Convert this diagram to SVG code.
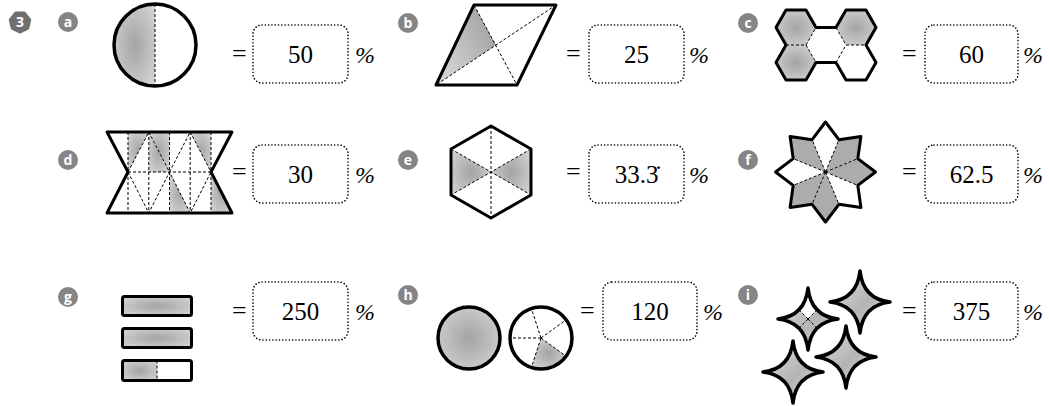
<svg xmlns="http://www.w3.org/2000/svg" xmlns:xlink="http://www.w3.org/1999/xlink" width="1049" height="406" viewBox="0 0 1049 406">
<defs>
<style>
.out{fill:none;stroke:#000;stroke-width:3;stroke-linejoin:round}
.thick{fill:none;stroke:#000;stroke-width:3.5;stroke-linejoin:round}
.dash{fill:none;stroke:#000;stroke-width:1;stroke-dasharray:3 2}
.box{fill:none;stroke:#000;stroke-width:1.6;stroke-dasharray:0.1 3.2;stroke-linecap:round}
.num{font-size:25px;text-anchor:middle;fill:#000}
.eq{font-size:26px;fill:#000}
.pc{font-size:24px;font-style:italic;fill:#000}
.badge{fill:#858587}
.bl{font-family:'Open Sans','DejaVu Sans',sans-serif;font-weight:bold;font-size:14px;fill:#fff;text-anchor:middle}
.sh{fill:url(#rg)}
.ser{font-family:'Liberation Serif','Times New Roman',serif}
</style>
<radialGradient id="rg" cx="0.5" cy="0.5" r="0.65">
<stop offset="0" stop-color="#a4a4a6"/>
<stop offset="1" stop-color="#d4d4d6"/>
</radialGradient>
<linearGradient id="lgb" x1="1" y1="0.3" x2="0" y2="1">
<stop offset="0" stop-color="#a2a2a4"/>
<stop offset="1" stop-color="#dedee0"/>
</linearGradient>
<linearGradient id="lgs" x1="0" y1="0" x2="1" y2="1">
<stop offset="0" stop-color="#e4e4e6"/>
<stop offset="0.55" stop-color="#b4b4b6"/>
<stop offset="1" stop-color="#dcdcde"/>
</linearGradient>
<path id="star" d="M0,-31 Q3,-3 30,0 Q3,3 0,31 Q-3,3 -30,0 Q-3,-3 0,-31 Z"/>
</defs>
<rect width="1049" height="406" fill="#fff"/>

<g id="q3">
<polygon points="20,32.5 11.79,28.55 9.76,19.66 15.44,12.54 24.56,12.54 30.24,19.66 28.21,28.55" fill="#6f6f71" stroke="#6f6f71" stroke-width="2" stroke-linejoin="round"/>
<text x="20" y="27" class="bl">3</text>
</g>

<g class="ser">
<g id="a">
<circle cx="68" cy="22" r="10" class="badge"/><text x="68" y="27" class="bl">a</text>
<path d="M155,4 A41,41 0 0 0 155,86 Z" class="sh"/>
<line x1="155" y1="4" x2="155" y2="86" class="dash"/>
<circle cx="155" cy="45" r="41" class="thick"/>
<text x="232" y="62" class="eq">=</text>
<rect x="253" y="25" width="95" height="58" rx="9" class="box"/>
<text x="300.5" y="63" class="num">50</text>
<text x="355" y="63" class="pc">%</text>
</g>

<g id="b">
<circle cx="408" cy="23" r="10" class="badge"/><text x="408" y="28" class="bl">b</text>
<polygon points="474,5 436,85 496,45" fill="url(#lgb)"/>
<line x1="474" y1="5" x2="517" y2="85" class="dash"/>
<line x1="556" y1="5" x2="436" y2="85" class="dash"/>
<polygon points="474,5 556,5 517,85 436,85" class="out"/>
<text x="566" y="62" class="eq">=</text>
<rect x="589" y="25" width="95" height="58" rx="9" class="box"/>
<text x="636.5" y="63" class="num">25</text>
<text x="689" y="63" class="pc">%</text>
</g>

<g id="c">
<circle cx="748" cy="23" r="10" class="badge"/><text x="748" y="28" class="bl">c</text>
<polygon points="776,27.5 786,10 806,10 816,27.5 806,45 786,45" class="sh"/>
<polygon points="776,62.5 786,45 806,45 816,62.5 806,80 786,80" class="sh"/>
<polygon points="836,27.5 846,10 866,10 876,27.5 866,45 846,45" class="sh"/>
<path d="M786,45 H806 M806,45 L816,27.5 M806,45 L816,62.5 M836,27.5 L846,45 M836,62.5 L846,45 M846,45 H866" class="dash"/>
<polygon points="776,27.5 786,10 806,10 816,27.5 836,27.5 846,10 866,10 876,27.5 866,45 876,62.5 866,80 846,80 836,62.5 816,62.5 806,80 786,80 776,62.5 786,45" class="out"/>
<text x="902" y="62" class="eq">=</text>
<rect x="925" y="25" width="93" height="58" rx="9" class="box"/>
<text x="971.5" y="63" class="num">60</text>
<text x="1023" y="63" class="pc">%</text>
</g>

<g id="d">
<circle cx="68" cy="160" r="10" class="badge"/><text x="68" y="165" class="bl">d</text>
<polygon points="128,132 148.8,132 128,172" class="sh"/>
<polygon points="148.8,132 169.5,172 148.8,172" class="sh"/>
<polygon points="148.8,132 169.5,132 169.5,172" class="sh"/>
<polygon points="190.2,132 211,132 211,172" class="sh"/>
<polygon points="169.5,172 190.2,213 169.5,213" class="sh"/>
<polygon points="211,172 211,213 232,213" class="sh"/>
<path d="M128,132 V213 M148.8,132 V213 M169.5,132 V213 M190.2,132 V213 M211,132 V213 M128,172 H211" class="dash"/>
<polyline points="128,172 148.8,132 169.5,172 190.2,132 211,172" class="dash"/>
<polyline points="128,172 148.8,213 169.5,172 190.2,213 211,172" class="dash"/>
<polygon points="107,132 232,132 211,172 232,213 107,213 128,172" class="out"/>
<text x="232" y="180" class="eq">=</text>
<rect x="253" y="145" width="95" height="58" rx="9" class="box"/>
<text x="300.5" y="183" class="num">30</text>
<text x="355" y="183" class="pc">%</text>
</g>

<g id="e">
<circle cx="408" cy="160" r="10" class="badge"/><text x="408" y="165" class="bl">e</text>
<polygon points="491,172 451,149 451,195" class="sh"/>
<polygon points="491,172 531,149 531,195" class="sh"/>
<path d="M491,126 V218 M451,149 L531,195 M531,149 L451,195" class="dash"/>
<polygon points="491,126 531,149 531,195 491,218 451,195 451,149" class="out"/>
<text x="566" y="180" class="eq">=</text>
<rect x="589" y="145" width="95" height="58" rx="9" class="box"/>
<text x="636.5" y="183" class="num">33.3&#x307;</text>
<text x="689" y="183" class="pc">%</text>
</g>

<g id="f">
<circle cx="748" cy="160" r="10" class="badge"/><text x="748" y="165" class="bl">f</text>
<g fill="#acacae">
<polygon points="825.5,172 838.9,139.7 860.9,136.6 857.8,158.6"/>
<polygon points="825.5,172 857.8,158.6 875.5,172 857.8,185.4"/>
<polygon points="825.5,172 838.9,204.3 825.5,222 812.1,204.3"/>
<polygon points="825.5,172 812.1,204.3 790.1,207.4 793.2,185.4"/>
<polygon points="825.5,172 793.2,158.6 790.1,136.6 812.1,139.7"/>
</g>
<path d="M825.5,172 L838.9,139.7 M825.5,172 L857.8,158.6 M825.5,172 L857.8,185.4 M825.5,172 L838.9,204.3 M825.5,172 L812.1,204.3 M825.5,172 L793.2,185.4 M825.5,172 L793.2,158.6 M825.5,172 L812.1,139.7" class="dash"/>
<circle cx="825.5" cy="172" r="1.5" fill="#000"/>
<polygon points="825.5,122 838.9,139.7 860.9,136.6 857.8,158.6 875.5,172 857.8,185.4 860.9,207.4 838.9,204.3 825.5,222 812.1,204.3 790.1,207.4 793.2,185.4 775.5,172 793.2,158.6 790.1,136.6 812.1,139.7" class="out"/>
<text x="902" y="180" class="eq">=</text>
<rect x="925" y="145" width="93" height="58" rx="9" class="box"/>
<text x="971.5" y="183" class="num">62.5</text>
<text x="1023" y="183" class="pc">%</text>
</g>

<g id="g">
<circle cx="68" cy="297" r="10" class="badge"/><text x="68" y="302" class="bl">g</text>
<rect x="122.5" y="296.5" width="69" height="19" rx="2" class="sh"/>
<rect x="122.5" y="296.5" width="69" height="19" rx="2" class="out"/>
<rect x="122.5" y="328.5" width="69" height="19" rx="2" class="sh"/>
<rect x="122.5" y="328.5" width="69" height="19" rx="2" class="out"/>
<rect x="122.5" y="360.5" width="34.5" height="20" class="sh"/>
<line x1="157" y1="360.5" x2="157" y2="380.5" class="dash"/>
<rect x="122.5" y="360.5" width="69" height="20" rx="2" class="out"/>
<text x="232" y="319" class="eq">=</text>
<rect x="253" y="282" width="95" height="58" rx="9" class="box"/>
<text x="300.5" y="320" class="num">250</text>
<text x="355" y="320" class="pc">%</text>
</g>

<g id="h">
<circle cx="408" cy="295" r="10" class="badge"/><text x="408" y="300" class="bl">h</text>
<circle cx="469" cy="338" r="31" class="sh"/>
<circle cx="469" cy="338" r="31" class="thick"/>
<path d="M541,338 L566.1,356.2 A31,31 0 0 1 531.4,367.5 Z" class="sh"/>
<path d="M541,338 H510 M541,338 L531.4,308.5 M541,338 L566.1,319.8 M541,338 L566.1,356.2 M541,338 L531.4,367.5" class="dash"/>
<circle cx="541" cy="338" r="31" class="thick"/>
<text x="580" y="319" class="eq">=</text>
<rect x="603" y="282" width="94" height="58" rx="9" class="box"/>
<text x="650" y="320" class="num">120</text>
<text x="703" y="320" class="pc">%</text>
</g>

<g id="i">
<circle cx="748" cy="295" r="10" class="badge"/><text x="748" y="300" class="bl">i</text>
<g transform="translate(808,319)">
<use xlink:href="#star" fill="url(#lgs)"/>
<path d="M0,0 L-9,-9.25 Q-1.5,-17 0,-31 Q1.5,-17 9,-9.25 Z" fill="#fff"/>
<path d="M0,0 L-9,-9.25 M0,0 L9,-9.25 M0,0 L9,9.25 M0,0 L-9,9.25" class="dash"/>
<use xlink:href="#star" class="thick"/>
</g>
<g transform="translate(860,302)">
<use xlink:href="#star" fill="url(#lgs)"/>
<use xlink:href="#star" class="thick"/>
</g>
<g transform="translate(846,357)">
<use xlink:href="#star" fill="url(#lgs)"/>
<use xlink:href="#star" class="thick"/>
</g>
<g transform="translate(793,372)">
<use xlink:href="#star" fill="url(#lgs)"/>
<use xlink:href="#star" class="thick"/>
</g>
<text x="902" y="319" class="eq">=</text>
<rect x="925" y="282" width="93" height="58" rx="9" class="box"/>
<text x="971.5" y="320" class="num">375</text>
<text x="1023" y="320" class="pc">%</text>
</g>
</g>
<g id="connectors"/>
</svg>
